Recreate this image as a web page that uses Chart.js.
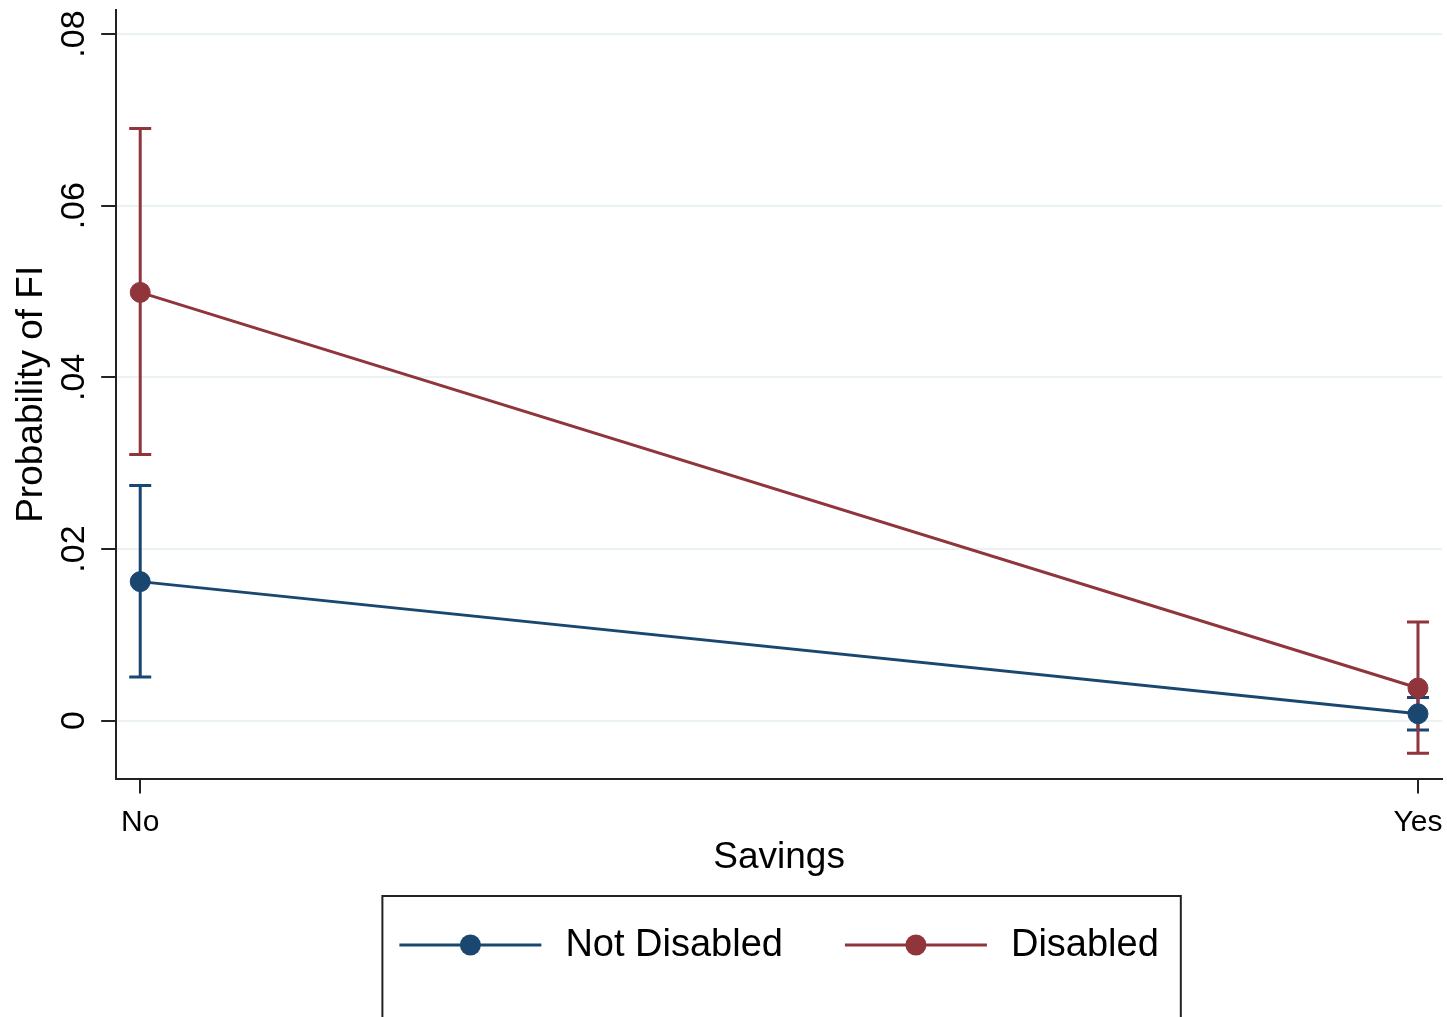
<!DOCTYPE html>
<html>
<head>
<meta charset="utf-8">
<script src="https://cdn.jsdelivr.net/npm/chart.js@4.4.1/dist/chart.umd.min.js"></script>
<style>
  html, body { margin: 0; padding: 0; background: #fff; }
  #wrap { width: 1447px; height: 1017px; }
</style>
</head>
<body>
<div id="wrap"><canvas id="chart"></canvas></div>
<script>
// x categories (placed at 0 and 1 on a linear axis)
var categories = ['No', 'Yes'];
var categoryPos = [0, 1];

// predicted probabilities with 95% CI
var notDisabled = [0.0162, 0.0008];
var notDisabledLo = [0.0051, -0.0011];
var notDisabledHi = [0.0274, 0.0027];
var disabled = [0.0499, 0.0038];
var disabledLo = [0.0310, -0.0038];
var disabledHi = [0.0690, 0.0115];

var yTicks = [0, 0.02, 0.04, 0.06, 0.08];
var yTickLabels = ['0', '.02', '.04', '.06', '.08'];

var navy = '#1a476f';
var maroon = '#90353b';
var FONT = '"Liberation Sans", Arial, sans-serif';

Chart.defaults.font.family = FONT;
Chart.defaults.color = '#000';

function toPoints(vals) {
    return vals.map(function (v, i) { return { x: categoryPos[i], y: v }; });
}

// capped CI spikes, drawn under the lines
var ciBars = {
    id: 'ciBars',
    beforeDatasetsDraw: function (chart) {
        var ctx = chart.ctx, xs = chart.scales.x, ys = chart.scales.y;
        chart.data.datasets.forEach(function (ds) {
            ctx.save();
            ctx.strokeStyle = ds.borderColor;
            ctx.lineWidth = 3;
            ds.ciLo.forEach(function (lo, i) {
                var px = xs.getPixelForValue(categoryPos[i]);
                var pLo = ys.getPixelForValue(lo);
                var pHi = ys.getPixelForValue(ds.ciHi[i]);
                ctx.beginPath();
                ctx.moveTo(px, pLo); ctx.lineTo(px, pHi);
                ctx.moveTo(px - 11, pLo); ctx.lineTo(px + 11, pLo);
                ctx.moveTo(px - 11, pHi); ctx.lineTo(px + 11, pHi);
                ctx.stroke();
            });
            ctx.restore();
        });
    }
};

// boxed legend below the x title, Stata style
var boxLegend = {
    id: 'boxLegend',
    afterDraw: function (chart) {
        var ctx = chart.ctx, area = chart.chartArea;
        var top = chart.scales.x.bottom + 16;
        var cx = (area.left + area.right) / 2;
        var lineLen = 142, textGap = 24, itemGap = 62;
        ctx.save();
        ctx.font = '38px ' + FONT;
        var items = chart.data.datasets.map(function (ds) {
            return { label: ds.label, color: ds.borderColor, w: ctx.measureText(ds.label).width };
        });
        var total = 0;
        items.forEach(function (it, i) { total += lineLen + textGap + it.w + (i ? itemGap : 0); });
        var x = cx - total / 2;
        var rowY = top + 49;
        ctx.strokeStyle = '#222';
        ctx.lineWidth = 2;
        ctx.strokeRect(x - 17, top, total + 39, chart.height - top + 10);
        items.forEach(function (it) {
            ctx.strokeStyle = it.color;
            ctx.lineWidth = 3;
            ctx.beginPath();
            ctx.moveTo(x, rowY); ctx.lineTo(x + lineLen, rowY);
            ctx.stroke();
            ctx.fillStyle = it.color;
            ctx.beginPath();
            ctx.arc(x + lineLen / 2, rowY, 10.5, 0, Math.PI * 2);
            ctx.fill();
            ctx.fillStyle = '#000';
            ctx.textBaseline = 'middle';
            ctx.fillText(it.label, x + lineLen + textGap, rowY + 1);
            x += lineLen + textGap + it.w + itemGap;
        });
        ctx.restore();
    }
};

new Chart(document.getElementById('chart'), {
    type: 'line',
    data: {
        datasets: [{
            label: 'Not Disabled',
            data: toPoints(notDisabled),
            ciLo: notDisabledLo,
            ciHi: notDisabledHi,
            borderColor: navy,
            backgroundColor: navy,
            borderWidth: 3,
            pointRadius: 10,
            pointBorderWidth: 1
        }, {
            label: 'Disabled',
            data: toPoints(disabled),
            ciLo: disabledLo,
            ciHi: disabledHi,
            borderColor: maroon,
            backgroundColor: maroon,
            borderWidth: 3,
            pointRadius: 10,
            pointBorderWidth: 1
        }]
    },
    options: {
        responsive: true,
        maintainAspectRatio: false,
        animation: false,
        layout: { autoPadding: false, padding: { left: 10, right: 5, top: 10, bottom: 137 } },
        plugins: {
            legend: { display: false },
            tooltip: { enabled: false }
        },
        scales: {
            x: {
                type: 'linear',
                min: -0.0188,
                max: 1.0188,
                afterBuildTicks: function (scale) {
                    scale.ticks = categoryPos.map(function (v) { return { value: v }; });
                },
                afterFit: function (scale) { scale.paddingLeft = 0; scale.paddingRight = 0; },
                ticks: {
                    autoSkip: false,
                    maxRotation: 0,
                    padding: 14,
                    font: { size: 30, lineHeight: 1.0 },
                    callback: function (v) { return categories[categoryPos.indexOf(v)]; }
                },
                grid: { drawOnChartArea: false, tickLength: 15, tickColor: '#222', lineWidth: 2 },
                border: { color: '#222', width: 2 },
                title: { display: true, text: 'Savings', font: { size: 37 }, padding: { top: -16, bottom: 0 } }
            },
            y: {
                min: -0.00675,
                max: 0.0828,
                afterBuildTicks: function (scale) {
                    scale.ticks = yTicks.map(function (v) { return { value: v }; });
                },
                afterFit: function (scale) { scale.paddingTop = 0; scale.paddingBottom = 0; },
                ticks: {
                    minRotation: 90,
                    maxRotation: 90,
                    crossAlign: 'center',
                    padding: 3,
                    font: { size: 34 },
                    callback: function (v) { return yTickLabels[yTicks.indexOf(v)]; }
                },
                grid: { color: '#eaf2f3', lineWidth: 2, tickLength: 15, tickColor: '#222' },
                border: { color: '#222', width: 2 },
                title: { display: true, text: 'Probability of FI', font: { size: 37 }, padding: { top: 0, bottom: 0 } }
            }
        }
    },
    plugins: [ciBars, boxLegend]
});
</script>
</body>
</html>
